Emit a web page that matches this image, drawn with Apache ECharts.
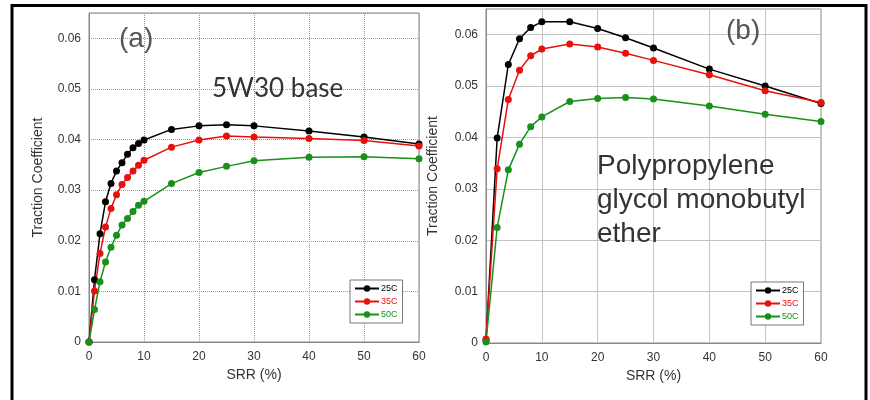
<!DOCTYPE html>
<html>
<head>
<meta charset="utf-8">
<script src="https://cdn.jsdelivr.net/npm/echarts@6/dist/echarts.min.js"></script>
<style>html,body{margin:0;padding:0;background:#fff}#c{width:870px;height:400px}</style>
</head>
<body>
<div id="c"></div>
<script>
// Panel (a): 5W30 base
var srrA = [0,1,2,3,4,5,6,7,8,9,10,15,20,25,30,40,50,60];
var a25 = [0,0.0123,0.0214,0.0277,0.0313,0.0338,0.0354,0.0371,0.0384,0.0392,0.0399,0.0420,0.0427,0.0429,0.0427,0.0417,0.0405,0.0391];
var a35 = [0,0.0101,0.0175,0.0227,0.0264,0.0291,0.0311,0.0325,0.0338,0.0349,0.0359,0.0385,0.0399,0.0407,0.0405,0.0402,0.0398,0.0387];
var a50 = [0,0.0064,0.0119,0.0158,0.0187,0.0211,0.0231,0.0244,0.0258,0.0270,0.0278,0.0313,0.0335,0.0347,0.0358,0.0365,0.0366,0.0362];
// Panel (b): Polypropylene glycol monobutyl ether
var srrB = [0,2,4,6,8,10,15,20,25,30,40,50,60];
var b25 = [0.0005,0.0399,0.0542,0.0592,0.0614,0.0625,0.0625,0.0612,0.0594,0.0574,0.0533,0.0500,0.0466];
var b35 = [0.0008,0.0339,0.0474,0.0531,0.0559,0.0572,0.0582,0.0576,0.0564,0.0550,0.0522,0.0491,0.0468];
var b50 = [0.0002,0.0225,0.0337,0.0387,0.0421,0.0440,0.0470,0.0476,0.0478,0.0475,0.0461,0.0445,0.0431];
var seriesNames = ['25C','35C','50C'];
var xTicks = [0,10,20,30,40,50,60];
var yTicks = [0,0.01,0.02,0.03,0.04,0.05,0.06];

var colors = {'25C':'#000000','35C':'#e8100c','50C':'#18901a'};
function pairs(xs, ys){ return xs.map(function(x,i){ return [x, ys[i]]; }); }
function yFmt(v){ return v === 0 ? '0' : v.toFixed(2); }

var chart = echarts.init(document.getElementById('c'), null, {renderer:'canvas'});
function mkX(idx){
  return {gridIndex: idx, type:'value', min:xTicks[0], max:xTicks[xTicks.length-1], interval:10,
    name:'SRR (%)', nameLocation:'middle', nameGap:25,
    nameTextStyle:{fontFamily:'Liberation Sans', fontSize:14, color:'#333'},
    axisLine:{show:true, lineStyle:{color:'#888'}}, axisTick:{show:false},
    axisLabel:{fontFamily:'Liberation Sans', fontSize:12, color:'#333', margin:9},
    splitLine:{show:true, lineStyle:{color: idx===0 ? '#999' : '#c4c4c4', type: idx===0 ? 'dotted' : 'solid', width:1}}
  };
}
function mkY(idx){
  return {gridIndex: idx, type:'value', min:0, max:0.065, interval:0.01,
    name:'Traction Coefficient', nameLocation:'middle', nameGap: idx===0 ? 44 : 46,
    nameTextStyle:{fontFamily:'Liberation Sans', fontSize:14, color:'#333'},
    axisLine:{show:true, lineStyle:{color:'#888'}}, axisTick:{show:false},
    axisLabel:{fontFamily:'Liberation Sans', fontSize:12, color:'#333', margin:8, showMaxLabel:false,
      formatter:function(v){ return yTicks.indexOf(+v.toFixed(3))>=0 ? yFmt(v) : ''; }},
    splitLine:{show:true, lineStyle:{color: idx===0 ? '#999' : '#c4c4c4', type: idx===0 ? 'dotted' : 'solid', width:1}}
  };
}
function mkSeries(name, xs, ys, idx){
  return {name:name, type:'line', xAxisIndex:idx, yAxisIndex:idx, data:pairs(xs,ys),
    symbol:'circle', symbolSize:7, color:colors[name],
    lineStyle:{width:1.5, color:colors[name]}, itemStyle:{color:colors[name]}, animation:false};
}
function mkLegend(left, top){
  return {orient:'vertical', left:left, top:top, itemWidth:24, itemHeight:8, itemGap:4,
    padding:[4,5,4,4], borderColor:'#777', borderWidth:1, backgroundColor:'#fff',
    selectedMode:false,
    textStyle:{fontFamily:'Liberation Sans', fontSize:9, padding:[0,0,0,-3]},
    data: seriesNames.map(function(n){ return {name:n, textStyle:{color:colors[n]}}; })};
}
chart.setOption({
  animation:false,
  backgroundColor:'#fff',
  grid:[
    {left:89, top:13, width:330, height:329, show:true, borderColor:'#888', borderWidth:1},
    {left:486, top:9, width:335, height:334, show:true, borderColor:'#888', borderWidth:1}
  ],
  xAxis:[mkX(0), mkX(1)],
  yAxis:[mkY(0), mkY(1)],
  legend:[mkLegend(350, 280), mkLegend(751, 282)],
  series:[
    mkSeries('25C', srrA, a25, 0), mkSeries('35C', srrA, a35, 0), mkSeries('50C', srrA, a50, 0),
    mkSeries('25C', srrB, b25, 1), mkSeries('35C', srrB, b35, 1), mkSeries('50C', srrB, b50, 1)
  ],
  graphic:[
    {type:'rect', shape:{x:12, y:5.5, width:854, height:420}, style:{fill:'none', stroke:'#000', lineWidth:3}, z:100},
    {type:'text', left:119, top:25, style:{text:'(a)', font:'28px "Liberation Sans"', fill:'#555'}, z:50},
    {type:'text', left:212, top:76, style:{text:'5W30 base', font:'26px Lato', fill:'#333'}, z:50},
    {type:'text', left:726, top:17, style:{text:'(b)', font:'28px "Liberation Sans"', fill:'#555'}, z:50},
    {type:'text', left:597, top:149, style:{text:'Polypropylene\nglycol monobutyl\nether', font:'28px "Liberation Sans"', lineHeight:34, fill:'#333'}, z:50}
  ]
});
</script>
</body>
</html>
